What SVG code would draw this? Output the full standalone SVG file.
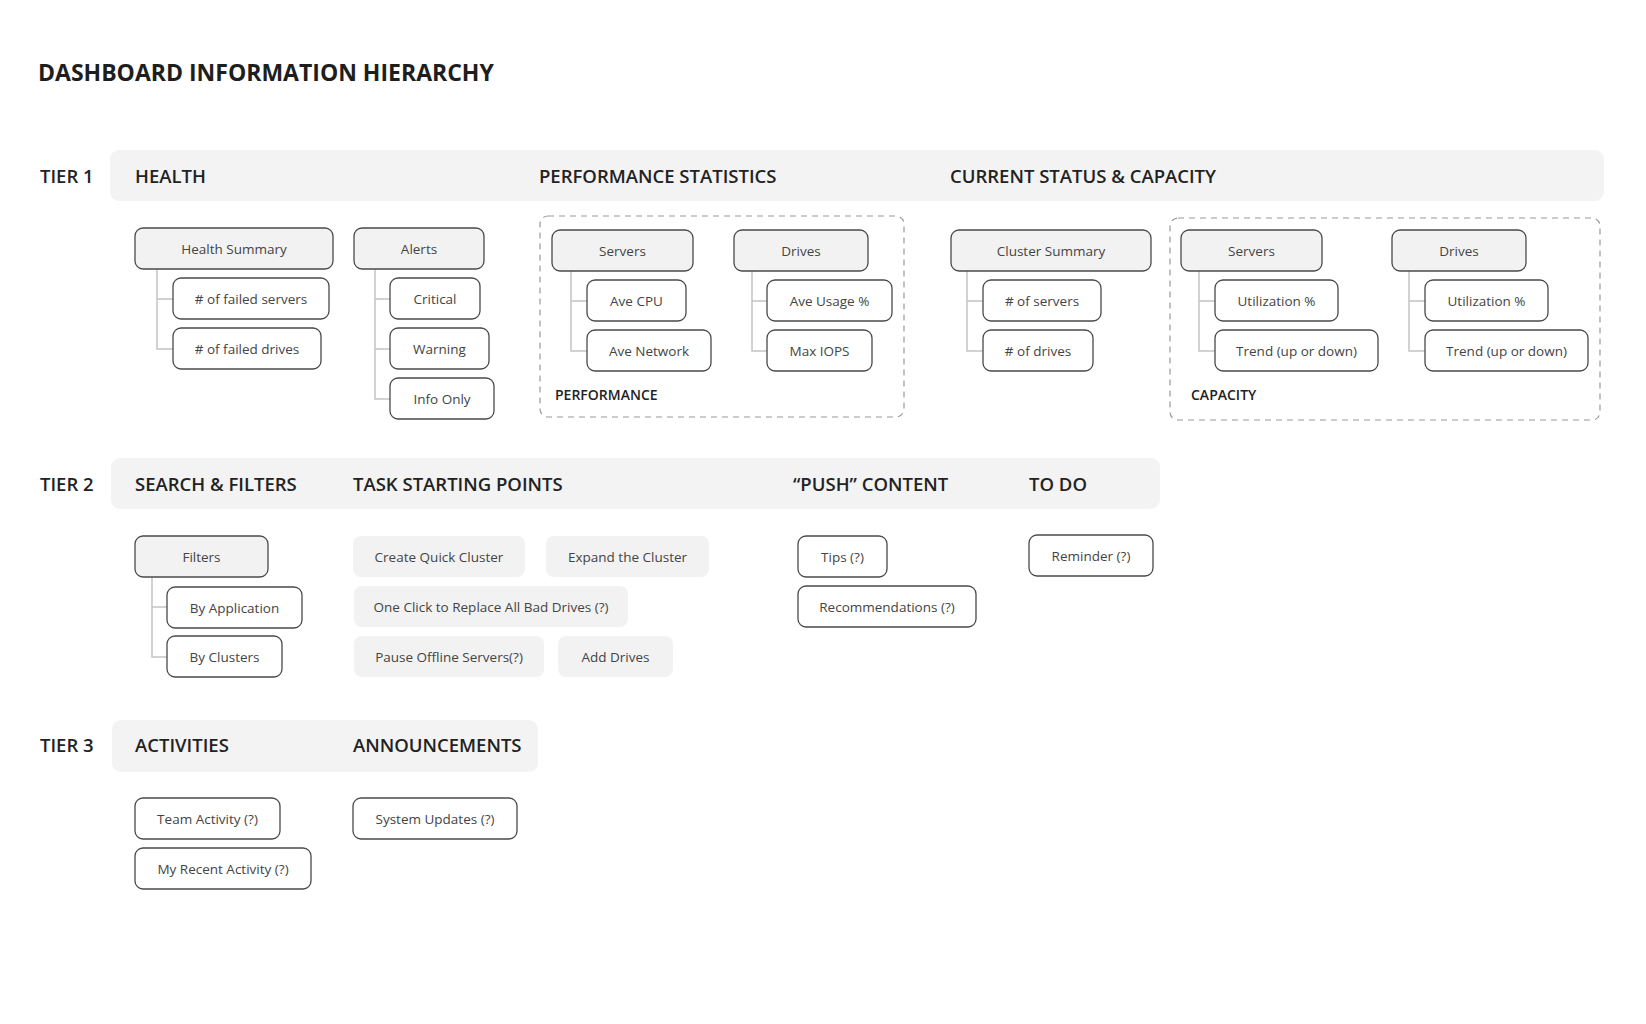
<svg xmlns="http://www.w3.org/2000/svg" width="1646" height="1024" viewBox="0 0 1646 1024">
<style>
.bg{fill:#fff}
.band{fill:#f3f3f3}
.title{font-family:"Open Sans","Noto Sans",sans-serif;font-weight:700;font-size:23px;fill:#1e1e1e}
.h{font-family:"Open Sans","Noto Sans",sans-serif;font-weight:600;font-size:18.5px;fill:#222}
.sub{font-family:"Open Sans","Noto Sans",sans-serif;font-weight:600;font-size:14px;fill:#222}
.n rect{fill:#fff;stroke:#4a4a4a;stroke-width:1.3}
.p rect{fill:#f2f2f2;stroke:#4a4a4a;stroke-width:1.3}
.t rect{fill:#f2f2f2;stroke:none}
.n text,.p text,.t text{font-family:"Open Sans","Noto Sans",sans-serif;font-size:13.5px;fill:#444;text-anchor:middle;dominant-baseline:central}
.dash{fill:none;stroke:#999;stroke-width:1.2;stroke-dasharray:6 5}
#connectors path{fill:none;stroke:#c4c4c4;stroke-width:1.5}
</style>
<rect class="bg" width="1646" height="1024"/>
<text class="title" x="38" y="81">DASHBOARD INFORMATION HIERARCHY</text>

<rect class="band" x="110" y="150" width="1494" height="51" rx="9"/>
<rect class="band" x="111" y="458" width="1049" height="51" rx="9"/>
<rect class="band" x="112" y="720" width="426" height="52" rx="9"/>
<g class="h">
<text x="40" y="183">TIER 1</text>
<text x="135" y="183">HEALTH</text>
<text x="539" y="183">PERFORMANCE STATISTICS</text>
<text x="950" y="183">CURRENT STATUS &amp; CAPACITY</text>
<text x="40" y="491">TIER 2</text>
<text x="135" y="491">SEARCH &amp; FILTERS</text>
<text x="353" y="491">TASK STARTING POINTS</text>
<text x="793" y="491">“PUSH” CONTENT</text>
<text x="1029" y="491">TO DO</text>
<text x="40" y="752">TIER 3</text>
<text x="135" y="752">ACTIVITIES</text>
<text x="353" y="752">ANNOUNCEMENTS</text>
</g>

<rect class="dash" x="540" y="216" width="364" height="201" rx="8"/>
<rect class="dash" x="1170" y="218" width="430" height="202" rx="8"/>
<text class="sub" x="555" y="400">PERFORMANCE</text>
<text class="sub" x="1191" y="400">CAPACITY</text>

<g id="connectors">
<path d="M157 269V349H173M157 299H173"/>
<path d="M375 269V399H390M375 299H390M375 349H390"/>
<path d="M571 271V351H587M571 301H587"/>
<path d="M752 271V351H767M752 301H767"/>
<path d="M967 271V351H983M967 301H983"/>
<path d="M1199 271V351H1215M1199 301H1215"/>
<path d="M1409 271V351H1425M1409 301H1425"/>
<path d="M152 577V657H167M152 607H167"/>
</g>

<g id="health-summary" class="p"><rect x="135" y="228" width="198" height="41" rx="8"/><text x="234" y="249">Health Summary</text></g>
<g id="failed-servers" class="n"><rect x="173" y="278" width="156" height="41" rx="8"/><text x="251" y="299">#  of failed servers</text></g>
<g id="failed-drives" class="n"><rect x="173" y="328" width="148" height="41" rx="8"/><text x="247" y="349">#  of failed drives</text></g>
<g id="alerts" class="p"><rect x="354" y="228" width="130" height="41" rx="8"/><text x="419" y="249">Alerts</text></g>
<g id="critical" class="n"><rect x="390" y="278" width="90" height="41" rx="8"/><text x="435" y="299">Critical</text></g>
<g id="warning" class="n"><rect x="390" y="328" width="99" height="41" rx="8"/><text x="439.5" y="349">Warning</text></g>
<g id="info-only" class="n"><rect x="390" y="378" width="104" height="41" rx="8"/><text x="442" y="399">Info Only</text></g>

<g id="perf-servers" class="p"><rect x="552" y="230" width="141" height="41" rx="8"/><text x="622.5" y="251">Servers</text></g>
<g id="ave-cpu" class="n"><rect x="587" y="280" width="99" height="41" rx="8"/><text x="636.5" y="301">Ave CPU</text></g>
<g id="ave-network" class="n"><rect x="587" y="330" width="124" height="41" rx="8"/><text x="649" y="351">Ave Network</text></g>
<g id="perf-drives" class="p"><rect x="734" y="230" width="134" height="41" rx="8"/><text x="801" y="251">Drives</text></g>
<g id="ave-usage" class="n"><rect x="767" y="280" width="125" height="41" rx="8"/><text x="829.5" y="301">Ave Usage %</text></g>
<g id="max-iops" class="n"><rect x="767" y="330" width="105" height="41" rx="8"/><text x="819.5" y="351">Max IOPS</text></g>

<g id="cluster-summary" class="p"><rect x="951" y="230" width="200" height="41" rx="8"/><text x="1051" y="251">Cluster Summary</text></g>
<g id="num-servers" class="n"><rect x="983" y="280" width="118" height="41" rx="8"/><text x="1042" y="301">#  of servers</text></g>
<g id="num-drives" class="n"><rect x="983" y="330" width="110" height="41" rx="8"/><text x="1038" y="351">#  of drives</text></g>

<g id="cap-servers" class="p"><rect x="1181" y="230" width="141" height="41" rx="8"/><text x="1251.5" y="251">Servers</text></g>
<g id="cap-servers-util" class="n"><rect x="1215" y="280" width="123" height="41" rx="8"/><text x="1276.5" y="301">Utilization %</text></g>
<g id="cap-servers-trend" class="n"><rect x="1215" y="330" width="163" height="41" rx="8"/><text x="1296.5" y="351">Trend (up or down)</text></g>
<g id="cap-drives" class="p"><rect x="1392" y="230" width="134" height="41" rx="8"/><text x="1459" y="251">Drives</text></g>
<g id="cap-drives-util" class="n"><rect x="1425" y="280" width="123" height="41" rx="8"/><text x="1486.5" y="301">Utilization %</text></g>
<g id="cap-drives-trend" class="n"><rect x="1425" y="330" width="163" height="41" rx="8"/><text x="1506.5" y="351">Trend (up or down)</text></g>

<g id="filters" class="p"><rect x="135" y="536" width="133" height="41" rx="8"/><text x="201.5" y="557">Filters</text></g>
<g id="by-application" class="n"><rect x="167" y="587" width="135" height="41" rx="8"/><text x="234.5" y="608">By Application</text></g>
<g id="by-clusters" class="n"><rect x="167" y="636" width="115" height="41" rx="8"/><text x="224.5" y="657">By Clusters</text></g>

<g id="create-quick-cluster" class="t"><rect x="353" y="536" width="172" height="41" rx="8"/><text x="439" y="557">Create Quick Cluster</text></g>
<g id="expand-cluster" class="t"><rect x="546" y="536" width="163" height="41" rx="8"/><text x="627.5" y="557">Expand the Cluster</text></g>
<g id="one-click" class="t"><rect x="354" y="586" width="274" height="41" rx="8"/><text x="491" y="607">One Click to Replace All Bad Drives (?)</text></g>
<g id="pause-offline" class="t"><rect x="354" y="636" width="190" height="41" rx="8"/><text x="449" y="657">Pause Offline Servers(?)</text></g>
<g id="add-drives" class="t"><rect x="558" y="636" width="115" height="41" rx="8"/><text x="615.5" y="657">Add Drives</text></g>

<g id="tips" class="n"><rect x="798" y="536" width="89" height="41" rx="8"/><text x="842.5" y="557">Tips (?)</text></g>
<g id="recommendations" class="n"><rect x="798" y="586" width="178" height="41" rx="8"/><text x="887" y="607">Recommendations (?)</text></g>
<g id="reminder" class="n"><rect x="1029" y="535" width="124" height="41" rx="8"/><text x="1091" y="556">Reminder (?)</text></g>

<g id="team-activity" class="n"><rect x="135" y="798" width="145" height="41" rx="8"/><text x="207.5" y="819">Team Activity (?)</text></g>
<g id="my-recent-activity" class="n"><rect x="135" y="848" width="176" height="41" rx="8"/><text x="223" y="869">My Recent Activity (?)</text></g>
<g id="system-updates" class="n"><rect x="353" y="798" width="164" height="41" rx="8"/><text x="435" y="819">System Updates (?)</text></g>
</svg>
